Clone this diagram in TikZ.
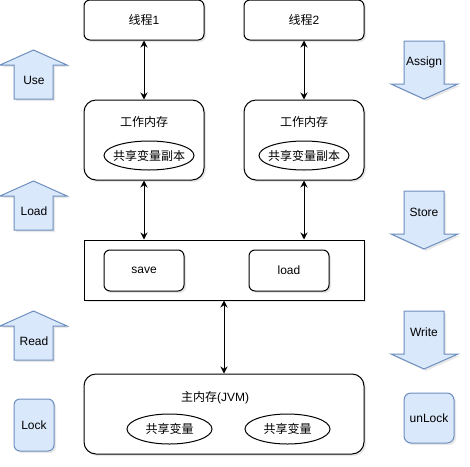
\documentclass[tikz,border=0pt]{standalone}
\usepackage{fontspec}
\setmainfont{Liberation Sans}
\newfontfamily\cjk{Noto Sans CJK SC}
\usetikzlibrary{arrows.meta,shapes.geometric,shadows}

\definecolor{opfill}{HTML}{DAE8FC}
\definecolor{opline}{HTML}{6C8EBF}

\begin{document}
\begin{tikzpicture}[x=1pt,y=-1pt,
    font=\fontsize{12}{14}\selectfont,
    shade/.style={drop shadow={opacity=0.18,shadow xshift=2pt,shadow yshift=-2pt}},
    box/.style={draw,line width=1pt,fill=white,shade,minimum width=120pt,minimum height=40pt,rounded corners=6pt},
    membox/.style={box,minimum height=80pt,rounded corners=12pt},
    var/.style={draw,line width=1pt,ellipse,inner sep=0pt,label={center:\cjk #1}},
    op/.style={draw=opline,line width=1pt,fill=opfill,shade},
    link/.style={line width=1pt,{Stealth[length=7pt,width=7pt]}-{Stealth[length=7pt,width=7pt]}}]
    \useasboundingbox (0,0) rectangle (470,466);

    % Threads
    \node[box] (thread1) at (144,20) {{\cjk 线程}1};
    \node[box] (thread2) at (304,20) {{\cjk 线程}2};

    % Working memory
    \node[membox] (work1) at (144,140) {};
    \node (worklabel1) at (144,122) {\cjk 工作内存};
    \node[var=共享变量副本,minimum width=90pt,minimum height=29pt] (copy1) at (149,155.5) {};
    \node[membox] (work2) at (304,140) {};
    \node (worklabel2) at (304,122) {\cjk 工作内存};
    \node[var=共享变量副本,minimum width=90pt,minimum height=29pt] (copy2) at (304,155.5) {};

    % Save / load
    \node[draw,line width=1pt,fill=white,shade,minimum width=280pt,minimum height=60pt] (transfer) at (224,270) {};
    \node[box,minimum width=80pt,minimum height=41pt] (save) at (144,270.5) {save};
    \node[box,minimum width=80pt,minimum height=41pt] (load) at (289,270.5) {load};

    % Main memory
    \node[membox,minimum width=280pt] (main) at (224,414) {};
    \node (mainlabel) at (215,398) {{\cjk 主内存}(JVM)};
    \node[var=共享变量,minimum width=85pt,minimum height=30pt] (shared1) at (169.5,429) {};
    \node[var=共享变量,minimum width=85pt,minimum height=30pt] (shared2) at (287.5,429) {};

    % Arrows between the levels
    \draw[link] (thread1.south) -- (work1.north);
    \draw[link] (thread2.south) -- (work2.north);
    \draw[link] (work1.south) -- (work1.south |- transfer.north);
    \draw[link] (work2.south) -- (work2.south |- transfer.north);
    \draw[link] (transfer.south) -- (main.north);

    % Operations going up
    \foreach \top/\txt/\nm in {50/Use/use,181/Load/loadop,311/Read/read} {
        \path[op] (14,\top+49) -- (14,\top+15) -- (0,\top+15) -- (33.5,\top)
            -- (67,\top+15) -- (53,\top+15) -- (53,\top+49) -- cycle;
        \node (\nm) at (34,\top+30) {\txt};
    }
    \node[op,rounded corners=6pt,minimum width=40pt,minimum height=52pt] (lock) at (34,425) {Lock};

    % Operations going down
    \foreach \top/\txt/\nm in {41/Assign/assign,191/Store/store,311/Write/write} {
        \path[op] (404,\top) -- (444,\top) -- (444,\top+43) -- (458,\top+43)
            -- (424,\top+58) -- (391,\top+43) -- (404,\top+43) -- cycle;
        \node (\nm) at (424,\top+21) {\txt};
    }
    \node[op,rounded corners=7pt,minimum width=50pt,minimum height=50pt] (unlock) at (429,418) {unLock};
\end{tikzpicture}
\end{document}
